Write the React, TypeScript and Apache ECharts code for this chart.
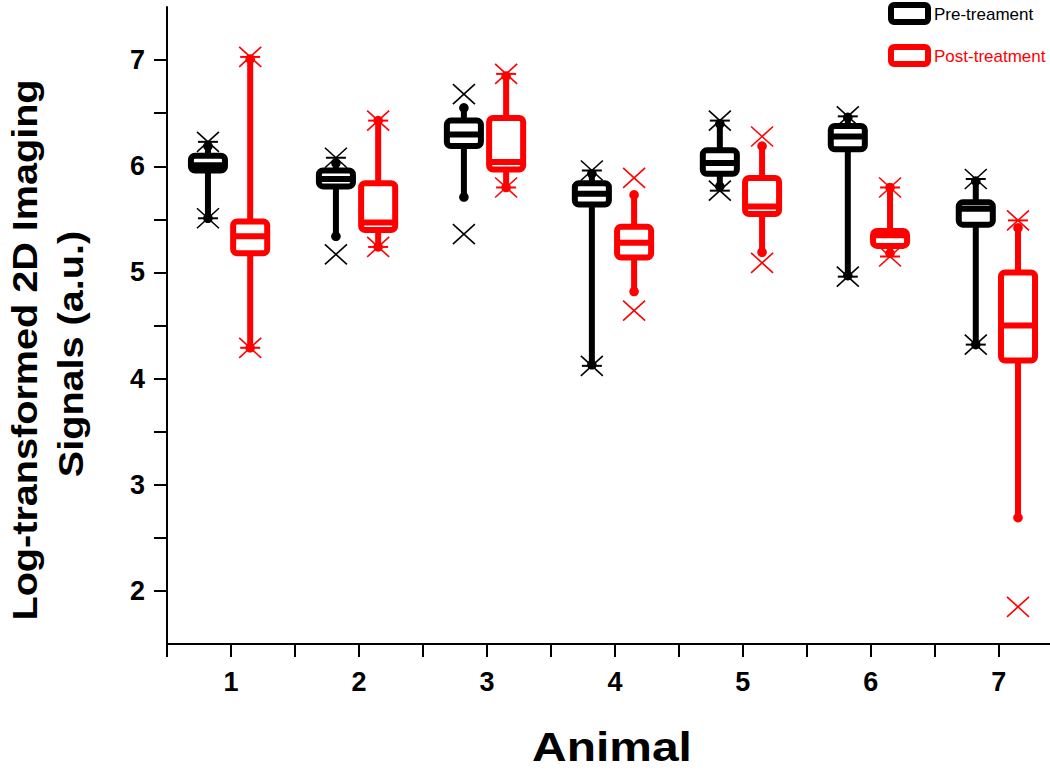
import React, { useEffect, useRef } from "react";
import * as echarts from "echarts";

// ---- data ----
const animals = [1, 2, 3, 4, 5, 6, 7];
const xTickValues = [0.5, 1, 1.5, 2, 2.5, 3, 3.5, 4, 4.5, 5, 5.5, 6, 6.5, 7];
const xLabelValues = [1, 2, 3, 4, 5, 6, 7];
const yTickValues = [2, 2.5, 3, 3.5, 4, 4.5, 5, 5.5, 6, 6.5, 7];
const yLabelValues = [2, 3, 4, 5, 6, 7];

const seriesNames = ["Pre-treament", "Post-treatment"];

const preWhiskerLow = [5.51, 5.34, 5.71, 4.13, 5.81, 4.97, 4.32];
const preQ1 = [5.96, 5.81, 6.19, 5.64, 5.93, 6.16, 5.45];
const preMedian = [6.01, 5.88, 6.3, 5.74, 6.03, 6.28, 5.6];
const preQ3 = [6.1, 5.96, 6.43, 5.84, 6.15, 6.38, 5.66];
const preWhiskerHigh = [6.19, 6.03, 6.55, 5.93, 6.4, 6.46, 5.86];
const preMarkLow = [5.51, 5.17, 5.36, 4.12, 5.77, 4.96, 4.32];
const preMarkHigh = [6.23, 6.08, 6.68, 5.96, 6.43, 6.47, 5.88];

const postWhiskerLow = [4.29, 5.24, 5.8, 4.82, 5.19, 5.18, 2.69];
const postQ1 = [5.18, 5.4, 5.97, 5.14, 5.55, 5.25, 4.17];
const postMedian = [5.34, 5.47, 6.04, 5.28, 5.62, 5.35, 4.5];
const postQ3 = [5.48, 5.84, 6.455, 5.43, 5.89, 5.39, 5.0];
const postWhiskerHigh = [7.01, 6.43, 6.85, 5.73, 6.19, 5.8, 5.42];
const postMarkLow = [4.29, 5.24, 5.8, 4.64, 5.09, 5.15, 1.85];
const postMarkHigh = [7.03, 6.43, 6.87, 5.89, 6.28, 5.8, 5.49];

const FONT = "'Liberation Sans', Arial, Helvetica, sans-serif";
const PRE_COLOR = "#000000";
const POST_COLOR = "#ff0000";

function buildData(wl: number[], q1: number[], med: number[], q3: number[], wh: number[], ml: number[], mh: number[]) {
  return animals.map((a, i) => [a, wl[i], q1[i], med[i], q3[i], wh[i], ml[i], mh[i]]);
}

function makeRender(offset: number, color: string) {
  return (params: any, api: any) => {
    const xv = api.value(0) + offset;
    const pt = (v: number) => api.coord([xv, v]);
    const [cx, yWL] = pt(api.value(1));
    const yQ1 = pt(api.value(2))[1];
    const yMed = pt(api.value(3))[1];
    const yQ3 = pt(api.value(4))[1];
    const yWH = pt(api.value(5))[1];
    const mLow = api.value(6);
    const mHigh = api.value(7);
    const yML = pt(mLow)[1];
    const yMH = pt(mHigh)[1];
    const halfW = api.size([0.266, 0])[0] / 2;
    const lw = 6;
    const children: any[] = [];
    children.push({ type: "line", shape: { x1: cx, y1: yWH, x2: cx, y2: yQ3 }, style: { stroke: color, lineWidth: lw } });
    children.push({ type: "line", shape: { x1: cx, y1: yQ1, x2: cx, y2: yWL }, style: { stroke: color, lineWidth: lw } });
    children.push({ type: "circle", shape: { cx, cy: yWH, r: 4.8 }, style: { fill: color } });
    children.push({ type: "circle", shape: { cx, cy: yWL, r: 4.8 }, style: { fill: color } });
    children.push({
      type: "rect",
      shape: { x: cx - halfW, y: yQ3, width: halfW * 2, height: yQ1 - yQ3, r: 4 },
      style: { fill: "#ffffff", stroke: color, lineWidth: lw },
    });
    children.push({ type: "line", shape: { x1: cx - halfW, y1: yMed, x2: cx + halfW, y2: yMed }, style: { stroke: color, lineWidth: lw } });
    const marks: [number, number, number][] = [
      [yML, mLow, api.value(1)],
      [yMH, mHigh, api.value(5)],
    ];
    marks.forEach(([y, mv, wv]) => {
      children.push({ type: "line", shape: { x1: cx - 11, y1: y - 10, x2: cx + 11, y2: y + 10 }, style: { stroke: color, lineWidth: 1.6 } });
      children.push({ type: "line", shape: { x1: cx - 11, y1: y + 10, x2: cx + 11, y2: y - 10 }, style: { stroke: color, lineWidth: 1.6 } });
      if (Math.abs(mv - wv) <= 0.075) {
        children.push({ type: "line", shape: { x1: cx - 10, y1: y, x2: cx + 10, y2: y }, style: { stroke: color, lineWidth: 2 } });
      }
    });
    return { type: "group", children };
  };
}

export default function App() {
  const ref = useRef<HTMLDivElement>(null);
  useEffect(() => {
    if (!ref.current) return;
    const chart = echarts.init(ref.current, undefined, { renderer: "svg" });
    const option: any = {
      animation: false,
      backgroundColor: "#ffffff",
      grid: { left: 167, right: 0, top: 7, bottom: 131, containLabel: false },
      xAxis: {
        type: "value",
        min: 0.5,
        max: 7.4,
        interval: 0.5,
        axisLine: { show: true, lineStyle: { color: "#000", width: 2 } },
        axisTick: { show: true, inside: false, length: 13, customValues: xTickValues, lineStyle: { color: "#000", width: 2 } },
        axisLabel: {
          customValues: xLabelValues,
          formatter: (v: number) => (Number.isInteger(v) ? String(v) : ""),
          fontSize: 27,
          fontWeight: "bold",
          fontFamily: FONT,
          color: "#000",
          margin: 24,
        },
        splitLine: { show: false },
      },
      yAxis: {
        type: "value",
        min: 1.5,
        max: 7.5,
        interval: 0.5,
        axisLine: { show: true, lineStyle: { color: "#000", width: 2 } },
        axisTick: { show: true, inside: false, length: 13, customValues: yTickValues, lineStyle: { color: "#000", width: 2 } },
        axisLabel: {
          customValues: yLabelValues,
          formatter: (v: number) => (Number.isInteger(v) && v >= 2 && v <= 7 ? String(v) : ""),
          fontSize: 27,
          fontWeight: "bold",
          fontFamily: FONT,
          color: "#000",
          margin: 22,
        },
        splitLine: { show: false },
      },
      series: [
        {
          name: seriesNames[0],
          type: "custom",
          renderItem: makeRender(-0.18, PRE_COLOR),
          encode: { x: 0, y: [1, 2, 3, 4, 5, 6, 7] },
          data: buildData(preWhiskerLow, preQ1, preMedian, preQ3, preWhiskerHigh, preMarkLow, preMarkHigh),
          z: 2,
        },
        {
          name: seriesNames[1],
          type: "custom",
          renderItem: makeRender(0.15, POST_COLOR),
          encode: { x: 0, y: [1, 2, 3, 4, 5, 6, 7] },
          data: buildData(postWhiskerLow, postQ1, postMedian, postQ3, postWhiskerHigh, postMarkLow, postMarkHigh),
          z: 3,
        },
      ],
      graphic: [
        {
          type: "text",
          x: 25,
          y: 350,
          rotation: Math.PI / 2,
          scaleX: 1.1,
          style: { text: "Log-transformed 2D Imaging", fontSize: 36, fontWeight: "bold", fontFamily: FONT, fill: "#000", align: "center", verticalAlign: "middle" },
        },
        {
          type: "text",
          x: 71,
          y: 354,
          rotation: Math.PI / 2,
          scaleX: 1.1,
          style: { text: "Signals (a.u.)", fontSize: 36, fontWeight: "bold", fontFamily: FONT, fill: "#000", align: "center", verticalAlign: "middle" },
        },
        {
          type: "text",
          x: 612,
          y: 747,
          scaleX: 1.17,
          style: { text: "Animal", fontSize: 41, fontWeight: "bold", fontFamily: FONT, fill: "#000", align: "center", verticalAlign: "middle" },
        },
        {
          type: "rect",
          shape: { x: 891, y: 5, width: 37, height: 17, r: 3 },
          style: { fill: "#fff", stroke: PRE_COLOR, lineWidth: 6 },
        },
        {
          type: "text",
          x: 934,
          y: 14,
          style: { text: seriesNames[0], fontSize: 17, fontFamily: FONT, fill: PRE_COLOR, align: "left", verticalAlign: "middle" },
        },
        {
          type: "rect",
          shape: { x: 891, y: 47, width: 37, height: 17, r: 3 },
          style: { fill: "#fff", stroke: POST_COLOR, lineWidth: 6 },
        },
        {
          type: "text",
          x: 934,
          y: 56,
          style: { text: seriesNames[1], fontSize: 17, fontFamily: FONT, fill: POST_COLOR, align: "left", verticalAlign: "middle" },
        },
      ],
    };
    chart.setOption(option);
    return () => chart.dispose();
  }, []);
  return <div ref={ref} style={{ position: "fixed", left: 0, top: 0, width: 1050, height: 775, background: "#fff" }} />;
}
